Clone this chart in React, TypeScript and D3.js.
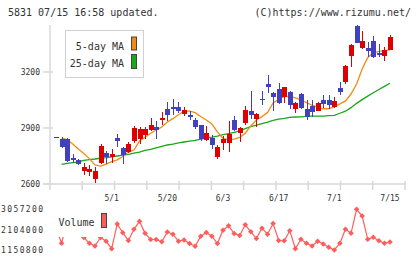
import React from "react";
import * as d3 from "d3";

// daily candles, oldest first
const opens = [2853, 2843, 2843, 2738, 2729, 2671, 2665, 2628, 2711, 2768, 2745, 2848, 2793, 2771, 2829, 2839, 2861, 2889, 2907, 2945, 3004, 3014, 3014, 2975, 2971, 2943, 2914, 2836, 2846, 2746, 2821, 2818, 2943, 2875, 2928, 2989, 2950, 3055, 3136, 3089, 3111, 3068, 3093, 3004, 3082, 3004, 3018, 2993, 3050, 3050, 3011, 3114, 3146, 3286, 3446, 3329, 3329, 3364, 3304, 3286, 3318];
const highs = [2853, 2853, 2845, 2761, 2736, 2711, 2700, 2689, 2814, 2779, 2786, 2866, 2800, 2825, 2911, 2907, 2904, 2954, 2936, 2986, 3039, 3057, 3039, 3014, 2993, 2954, 2918, 2911, 2861, 2807, 2857, 2939, 2964, 2904, 3018, 3100, 2982, 3100, 3186, 3093, 3143, 3121, 3100, 3039, 3086, 3050, 3050, 3039, 3075, 3079, 3068, 3146, 3239, 3350, 3453, 3421, 3361, 3393, 3350, 3332, 3396];
const lows = [2853, 2793, 2718, 2711, 2700, 2647, 2643, 2604, 2707, 2707, 2711, 2800, 2707, 2764, 2818, 2814, 2843, 2886, 2843, 2914, 2939, 2971, 2982, 2964, 2945, 2896, 2829, 2829, 2786, 2732, 2782, 2771, 2882, 2825, 2914, 2946, 2907, 3021, 3086, 2993, 3029, 3036, 3004, 2982, 3004, 2943, 2957, 2989, 3007, 3004, 3007, 3075, 3136, 3229, 3357, 3325, 3282, 3275, 3279, 3257, 3318];
const closes = [2853, 2800, 2725, 2726, 2708, 2693, 2678, 2668, 2804, 2747, 2762, 2832, 2757, 2814, 2900, 2893, 2893, 2918, 2889, 2954, 2971, 3004, 2993, 2996, 2957, 2907, 2839, 2875, 2811, 2796, 2839, 2868, 2889, 2900, 2996, 2971, 2975, 3053, 3121, 3068, 3032, 3121, 3025, 3036, 3007, 2961, 2986, 3032, 3029, 3025, 3043, 3093, 3232, 3346, 3357, 3368, 3314, 3279, 3289, 3318, 3389];

const ma5 = [null, 2846, 2838, 2814, 2788, 2763, 2736, 2702, 2696, 2707, 2720, 2729, 2747, 2771, 2782, 2830, 2850, 2872, 2889, 2905, 2932, 2950, 2971, 2990, 2990, 2982, 2962, 2943, 2921, 2879, 2844, 2836, 2840, 2850, 2872, 2911, 2943, 2961, 2983, 3034, 3054, 3068, 3071, 3061, 3050, 3036, 3022, 3011, 3003, 3003, 3014, 3029, 3045, 3082, 3136, 3216, 3278, 3303, 3310, 3314, 3318];
const ma25 = [null, 2705, 2711, 2714, 2717, 2726, 2731, 2734, 2738, 2741, 2745, 2750, 2755, 2759, 2765, 2771, 2780, 2785, 2793, 2801, 2809, 2814, 2820, 2825, 2830, 2834, 2840, 2846, 2851, 2857, 2864, 2870, 2876, 2885, 2897, 2908, 2916, 2924, 2932, 2941, 2948, 2952, 2957, 2959, 2960, 2962, 2964, 2964, 2964, 2966, 2968, 2979, 2990, 3009, 3032, 3052, 3071, 3089, 3106, 3123, 3140];

const volumes = [2181000, 1464600, 2462000, 2087000, 1994000, 1736000, 1465000, 1338000, 1736000, 1558000, 1212000, 2369000, 1961000, 1596000, 2120000, 2495000, 1933000, 1643000, 1643000, 1535000, 1994000, 1891000, 1563000, 1619000, 1455000, 1329000, 1797000, 1970000, 1797000, 1455000, 2078000, 2284000, 1924000, 1830000, 2331000, 2003000, 1689000, 2172000, 1891000, 2392000, 1596000, 1582000, 2055000, 1212000, 1652000, 1465000, 1338000, 1558000, 1432000, 1277000, 1150800, 1465000, 2120000, 1933000, 3057200, 2743000, 1652000, 1746000, 1586000, 1465000, 1525000];

const priceTicks = [2600, 2900, 3200];
const volumeTicks = [1150800, 2104000, 3057200];
const dateLabels = [
  { i: 10, label: "5/1" },
  { i: 20, label: "5/20" },
  { i: 30, label: "6/3" },
  { i: 40, label: "6/17" },
  { i: 50, label: "7/1" },
  { i: 60, label: "7/15" },
];

const mono = "'DejaVu Sans Mono', monospace";
const UP = "#dd0000";
const DOWN = "#4040c0";
const ORANGE = "#f08c14";
const GREEN = "#18a818";
const VOL = "#ff5c5c";
const AXIS = "#d8d8d8";

export default function App() {
  const n = closes.length;
  const x = d3.scaleLinear().domain([0, n - 1]).range([56, 390]);
  const y = d3.scaleLinear().domain([2600, 3200]).range([184, 72]);
  const yv = d3.scaleLinear().domain([1150800, 3057200]).range([250, 209.3]);
  const grid = d3.scaleLinear().domain([0, 11]).range([50, 405]);

  const maLine = d3
    .line<number | null>()
    .defined((d) => d != null)
    .x((_, i) => x(i))
    .y((d) => y(d as number));

  const volLine = d3
    .line<number>()
    .x((_, i) => x(i))
    .y((d) => yv(d));

  const diamond = d3.symbol().type(d3.symbolDiamond2).size(20)();

  return (
    <svg
      width={420}
      height={259}
      style={{ position: "absolute", left: 0, top: 0, background: "#fff" }}
    >
      {/* header */}
      <text x={8} y={16} fontFamily={mono} fontSize={10} fill="#333">
        5831 07/15 16:58 updated.
      </text>
      <text x={411} y={16} fontFamily={mono} fontSize={10} fill="#333" textAnchor="end">
        (C)https://www.rizumu.net/
      </text>

      {/* axes */}
      <line x1={50} x2={50} y1={25} y2={190} stroke={AXIS} strokeWidth={1.5} />
      <line x1={43} x2={406} y1={y(2600)} y2={y(2600)} stroke={AXIS} strokeWidth={1.5} />
      {priceTicks.map((t) => (
        <g key={t}>
          <line x1={43} x2={53} y1={y(t)} y2={y(t)} stroke={AXIS} strokeWidth={1.5} />
          <text x={40} y={y(t) + 3} fontFamily={mono} fontSize={8} fill="#333" textAnchor="end">
            {t}
          </text>
        </g>
      ))}
      {d3.range(1, 12).map((k) => (
        <line key={k} x1={grid(k)} x2={grid(k)} y1={181} y2={190} stroke={AXIS} strokeWidth={1.5} />
      ))}
      {dateLabels.map((d) => (
        <text key={d.label} x={x(d.i)} y={201} fontFamily={mono} fontSize={8} fill="#333" textAnchor="middle">
          {d.label}
        </text>
      ))}

      {/* moving averages */}
      <path d={maLine(ma25) || ""} fill="none" stroke={GREEN} strokeWidth={1.3} />
      <path d={maLine(ma5) || ""} fill="none" stroke={ORANGE} strokeWidth={1.3} />

      {/* candles */}
      <g shapeRendering="crispEdges">
        {closes.map((c, i) => {
          const o = opens[i];
          const cx = Math.round(x(i));
          const col = c >= o ? UP : DOWN;
          const top = Math.round(y(Math.max(o, c)));
          const bot = Math.round(y(Math.min(o, c)));
          return (
            <g key={i}>
              <line x1={cx + 0.5} x2={cx + 0.5} y1={y(highs[i])} y2={y(lows[i])} stroke={col} strokeWidth={1} />
              <rect x={cx - 2} y={top} width={5} height={Math.max(1, bot - top)} fill={col} />
            </g>
          );
        })}
      </g>

      {/* price legend */}
      <rect x={65.5} y={30.5} width={78} height={47} fill="#fff" stroke="#d0d0d0" />
      <text x={124} y={50} fontFamily={mono} fontSize={10} fill="#333" textAnchor="end">
        5-day MA
      </text>
      <text x={124} y={67} fontFamily={mono} fontSize={10} fill="#333" textAnchor="end">
        25-day MA
      </text>
      <rect x={131.5} y={37} width={5} height={13} fill={ORANGE} stroke="#444" />
      <rect x={131.5} y={54.5} width={5} height={14} fill={GREEN} stroke="#444" />

      {/* volume */}
      {volumeTicks.map((t) => (
        <text key={t} x={1} y={yv(t) + 3} fontFamily={mono} fontSize={8} letterSpacing={1.4} fill="#333">
          {t}
        </text>
      ))}
      <path d={volLine(volumes) || ""} fill="none" stroke={VOL} strokeWidth={1.2} />
      {volumes.map((v, i) => (
        <path key={i} d={diamond || ""} transform={`translate(${x(i)},${yv(v)})`} fill={VOL} />
      ))}
      <rect x={53} y={206.5} width={61} height={30.5} fill="#fff" />
      <text x={58.5} y={226} fontFamily={mono} fontSize={10} fill="#333">
        Volume
      </text>
      <rect x={101.5} y={213.5} width={5} height={14} fill={VOL} stroke="#444" />
    </svg>
  );
}
